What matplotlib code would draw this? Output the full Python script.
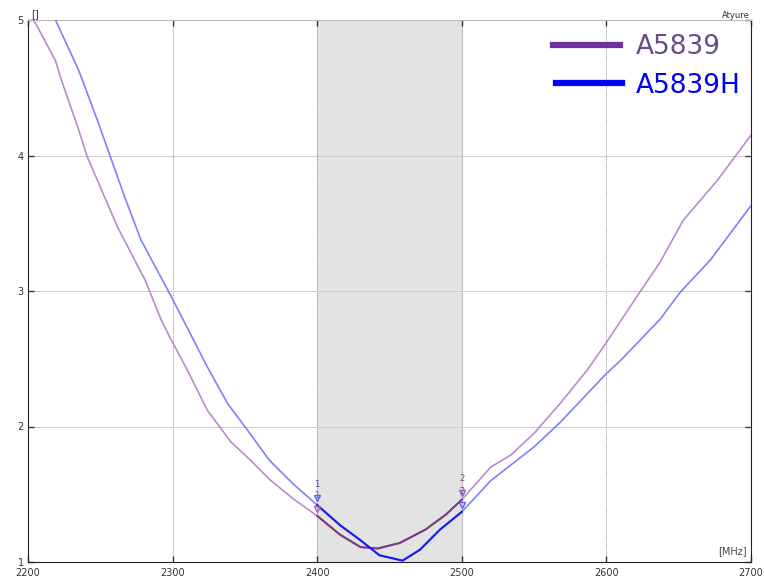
import matplotlib.pyplot as plt
import numpy as np
from matplotlib.patches import Rectangle

# frequency (MHz) / VSWR readings
freqA = [2204, 2219, 2223, 2235, 2241, 2262, 2281, 2292, 2298, 2310, 2324, 2340,
         2354, 2367, 2383, 2400, 2416, 2430, 2442, 2457, 2475, 2489, 2500, 2520,
         2534, 2550, 2568, 2587, 2600, 2623, 2637, 2653, 2677, 2700]
vswrA = [5.0, 4.70, 4.56, 4.19, 3.99, 3.47, 3.08, 2.79, 2.66, 2.42, 2.12, 1.89,
         1.75, 1.61, 1.47, 1.34, 1.20, 1.11, 1.10, 1.14, 1.24, 1.35, 1.46, 1.70,
         1.79, 1.95, 2.17, 2.42, 2.62, 2.99, 3.21, 3.52, 3.82, 4.15]

freqB = [2219, 2235, 2248, 2257, 2267, 2278, 2299, 2312, 2324, 2338, 2352, 2367,
         2383, 2400, 2416, 2430, 2443, 2459, 2471, 2485, 2500, 2520, 2550, 2568,
         2599, 2610, 2637, 2651, 2672, 2700]
vswrB = [5.0, 4.63, 4.26, 3.99, 3.69, 3.38, 2.96, 2.69, 2.44, 2.17, 1.97, 1.75,
         1.58, 1.42, 1.27, 1.16, 1.05, 1.01, 1.09, 1.24, 1.37, 1.60, 1.85, 2.03,
         2.38, 2.49, 2.79, 2.99, 3.23, 3.63]

names = ['A5839', 'A5839H']
band = [2400, 2500]
xticks = [2200, 2300, 2400, 2500, 2600, 2700]
yticks = [1, 2, 3, 4, 5]

fig = plt.figure(figsize=(7.64, 5.80), dpi=100)
ax = fig.add_axes([28/764, 18/580, 723/764, 542/580])

ax.add_patch(Rectangle((band[0], 1), band[1]-band[0], 4, color='#e3e3e3', zorder=0))

for x in xticks[1:-1]:
    ax.axvline(x, color='#999999', lw=0.7, ls=(0, (1, 1)), zorder=1)
for y in yticks[1:-1]:
    ax.axhline(y, color='#cccccc', lw=0.7, zorder=1)

ax.plot(freqA, vswrA, color='#b98bcb', lw=1.2, zorder=3)
ax.plot(freqB, vswrB, color='#8080ff', lw=1.2, zorder=3)

fa = np.array(freqA); va = np.array(vswrA)
fb = np.array(freqB); vb = np.array(vswrB)
ma = (fa >= band[0]) & (fa <= band[1])
mb = (fb >= band[0]) & (fb <= band[1])
ax.plot(fa[ma], va[ma], color='#7a3a7e', lw=1.5, zorder=4)
ax.plot(fb[mb], vb[mb], color='#1a1aee', lw=1.5, zorder=4)

# markers 1 and 2
for i, x in enumerate(band):
    ya = vswrA[freqA.index(x)]
    yb = vswrB[freqB.index(x)]
    ax.plot(x, ya + 0.05, marker='v', ms=5, mfc='none', mec='#a060b0', zorder=5)
    ax.plot(x, yb + 0.05, marker='v', ms=5, mfc='none', mec='#6060ff', zorder=5)
    ax.text(x, ya + 0.12, str(i+1), fontsize=6, color='#904090', ha='center', va='bottom')
    ax.text(x, yb + 0.12, str(i+1), fontsize=6, color='#4040c0', ha='center', va='bottom')

ax.set_xlim(2200, 2700)
ax.set_ylim(1, 5)
ax.set_xticks(xticks)
ax.set_yticks(yticks)
ax.tick_params(labelsize=7, colors='#333333', direction='in', length=4, width=1,
               top=True, right=True, pad=4)
ax.tick_params(axis='y', pad=3)
for s in ['left', 'bottom', 'right']:
    ax.spines[s].set_color('#222222')
ax.spines['top'].set_color('#bbbbbb')

fig.text(31/764, 1 - 14/580, '[]', fontsize=7, color='#333333', ha='left', va='center')
fig.text(750/764, 1 - 15/580, 'Atyure', fontsize=6, color='#333333', ha='right', va='center')
ax.text(2697, 1.04, '[MHz]', fontsize=7, color='#444444', ha='right', va='bottom')

# legend
fig.add_artist(plt.Line2D([553/764, 620/764], [1 - 45/580, 1 - 45/580], color='#7030a0', lw=4.5))
fig.add_artist(plt.Line2D([556/764, 622/764], [1 - 83/580, 1 - 83/580], color='#0000ff', lw=4.5))
fig.text(636/764, 1 - 47/580, names[0], fontsize=19, color='#6a4c8c', ha='left', va='center')
fig.text(636/764, 1 - 86/580, names[1], fontsize=19, color='#0000ff', ha='left', va='center')

fig.savefig('out.png', dpi=100)
